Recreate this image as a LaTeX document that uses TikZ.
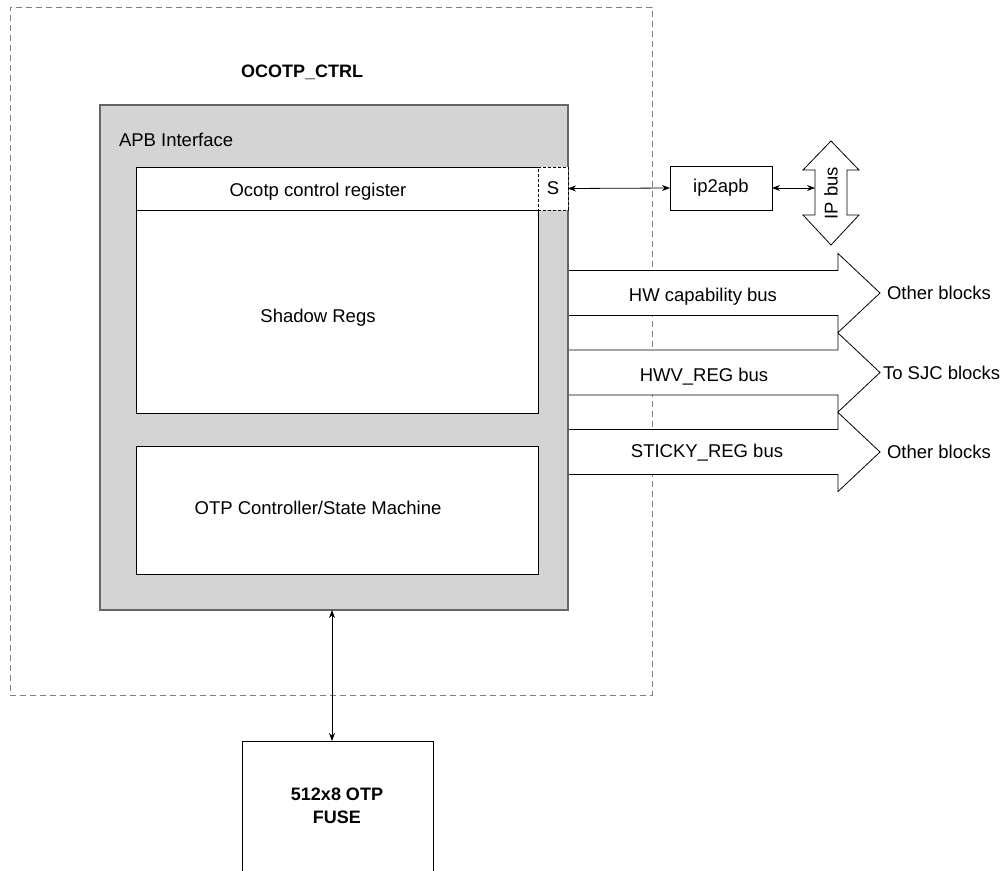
\documentclass[tikz,border=0pt]{standalone}
\usepackage{fontspec}
\setmainfont{Liberation Sans}
\usetikzlibrary{arrows.meta}
\begin{document}
\begin{tikzpicture}[x=1pt,y=-1pt,
  every node/.style={font=\fontsize{18.5}{23}\selectfont, inner sep=0pt, outer sep=0pt},
  outerbox/.style={draw=black!50, line width=1pt, dash pattern=on 6pt off 4pt},
  graybox/.style={draw=black!60, fill=black!17, line width=1.3pt},
  whitebox/.style={draw=black, fill=white, line width=1pt},
  sbox/.style={draw=black, fill=white, line width=0.9pt, dash pattern=on 3pt off 2pt},
  busarrow/.style={draw=black, fill=white, line width=0.8pt, line join=miter},
  link/.style={{Stealth[length=8pt,width=6pt]}-{Stealth[length=8pt,width=6pt]}, line width=0.8pt},
  boldlbl/.style={font=\fontsize{18}{23}\selectfont\bfseries, align=center}
]
\clip (0,0) rectangle (1005,871);
\fill[white] (0,0) rectangle (1005,871);

% outer dashed block
\node[outerbox, minimum width=642, minimum height=688, anchor=north west] (ctrl) at (10,7) {};
\node[boldlbl] (title) at (302,72) {OCOTP\_CTRL};

% bus arrows (drawn before gray box so the box edge stays on top)
\foreach \c in {293, 372.5, 452}{
  \draw[busarrow] (566,\c-22.5) -- (838,\c-22.5) -- (838,\c-39.5) -- (880,\c)
     -- (838,\c+39.5) -- (838,\c+22.5) -- (566,\c+22.5);
}

% APB interface
\node[graybox, minimum width=468, minimum height=505, anchor=north west] (apb) at (100,105) {};
\node[anchor=west] (apblbl) at (119,140) {APB Interface};

\node[whitebox, minimum width=402, minimum height=246, anchor=north west] (shadow) at (136,167) {};
\node[whitebox, minimum width=402, minimum height=43, anchor=north west] (ctrlreg) at (136,167) {};
\node (ctrltxt) at (318,192) {Ocotp control register};
\node (shtxt) at (318,318) {Shadow Regs};

\node[whitebox, minimum width=402, minimum height=128, anchor=north west] (otp) at (136,446) {};
\node (otptxt) at (318,508) {OTP Controller/State Machine};

\node[sbox, minimum width=30, minimum height=43, anchor=north west] (s) at (538,167) {S};

% ip2apb and IP bus
\node[whitebox, line width=0.9pt, minimum width=102, minimum height=44, anchor=north west] (ip2apb) at (670,166) {ip2apb};
\draw[fill=white, line width=0.8pt] (831,141) -- (859,170) -- (847,170) -- (847,215) -- (859,215)
   -- (831,245) -- (803,215) -- (815,215) -- (815,170) -- (803,170) -- cycle;
\node[rotate=90] (ipbus) at (831,193) {IP bus};
\coordinate (ipbusL) at (815,188);

\draw[link] (s.east) -- (ip2apb.west);
\draw[link] (ip2apb.east) -- (ipbusL);

% bus labels
\node (hwcap) at (703,297) {HW capability bus};
\node (hwv) at (704,377) {HWV\_REG bus};
\node (sticky) at (707,453) {STICKY\_REG bus};
\node[anchor=west] (oth1) at (887,293) {Other blocks};
\node[anchor=west] (sjc) at (883,372.5) {To SJC blocks};
\node[anchor=west] (oth2) at (887,452) {Other blocks};

% fuse
\node[whitebox, minimum width=191, minimum height=160, anchor=north west] (fuse) at (242,741) {};
\node[boldlbl] (fusetxt) at (337,806) {512x8 OTP\\FUSE};
\coordinate (busx) at (332,0);
\draw[link] (apb.south -| busx) -- (fuse.north -| busx);
\end{tikzpicture}
\end{document}
